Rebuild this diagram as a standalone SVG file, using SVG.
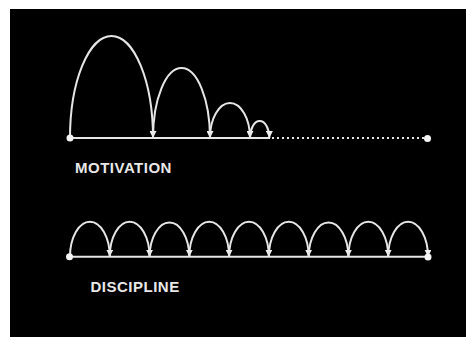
<svg xmlns="http://www.w3.org/2000/svg" width="466" height="337" viewBox="0 0 466 337">
<defs>
<style>
.ln{stroke:#e6e6e6;stroke-width:2;fill:none}
.arc{stroke:#e6e6e6;stroke-width:2;fill:none;marker-end:url(#ah)}
.dot{fill:#f4f4f4}
.lbl{font-family:"Liberation Sans",Arial,sans-serif;font-weight:bold;font-size:15px;fill:#e8e8e8;letter-spacing:0.5px}
</style>
<marker id="ah" viewBox="0 0 6 6" refX="3" refY="6" markerWidth="7" markerHeight="7" markerUnits="userSpaceOnUse" orient="0">
<path d="M0,0 L6,0 L3,6 Z" fill="#f0f0f0"/>
</marker>
</defs>
<rect x="0" y="0" width="466" height="337" fill="#fff"/>
<rect x="10" y="9" width="456" height="328" fill="#000"/>
<g id="connectors">
<line class="ln" x1="70" y1="138" x2="270" y2="138"/>
<line class="ln" x1="272" y1="138" x2="424" y2="138" stroke-dasharray="2 3"/>
<path class="arc" d="M70,138 A41.5,102 0 0 1 153,138"/>
<path class="arc" d="M153,138 A28.5,70 0 0 1 210,138"/>
<path class="arc" d="M210,138 A20,35 0 0 1 250,138"/>
<path class="arc" d="M250,138 A9.7,17 0 0 1 269.4,138"/>
<line class="ln" x1="70" y1="256.7" x2="428" y2="256.7"/>
<path class="arc" d="M70,256.7 A19.89,35 0 0 1 109.78,256.7"/>
<path class="arc" d="M109.78,256.7 A19.89,35 0 0 1 149.56,256.7"/>
<path class="arc" d="M149.56,256.7 A19.89,35 0 0 1 189.33,256.7"/>
<path class="arc" d="M189.33,256.7 A19.89,35 0 0 1 229.11,256.7"/>
<path class="arc" d="M229.11,256.7 A19.89,35 0 0 1 268.89,256.7"/>
<path class="arc" d="M268.89,256.7 A19.89,35 0 0 1 308.67,256.7"/>
<path class="arc" d="M308.67,256.7 A19.89,35 0 0 1 348.44,256.7"/>
<path class="arc" d="M348.44,256.7 A19.89,35 0 0 1 388.22,256.7"/>
<path class="arc" d="M388.22,256.7 A19.89,35 0 0 1 428,256.7"/>
</g>
<g id="motivation-start"><circle class="dot" cx="70" cy="138" r="3.5"/></g>
<g id="motivation-end"><circle class="dot" cx="427.5" cy="138.5" r="3.5"/></g>
<g id="discipline-start"><circle class="dot" cx="69.5" cy="256.7" r="3.5"/></g>
<g id="discipline-end"><circle class="dot" cx="428" cy="257" r="3.5"/></g>
<g id="motivation-label"><text class="lbl" x="75" y="173.3">MOTIVATION</text></g>
<g id="discipline-label"><text class="lbl" x="90.5" y="292.3">DISCIPLINE</text></g>
</svg>
